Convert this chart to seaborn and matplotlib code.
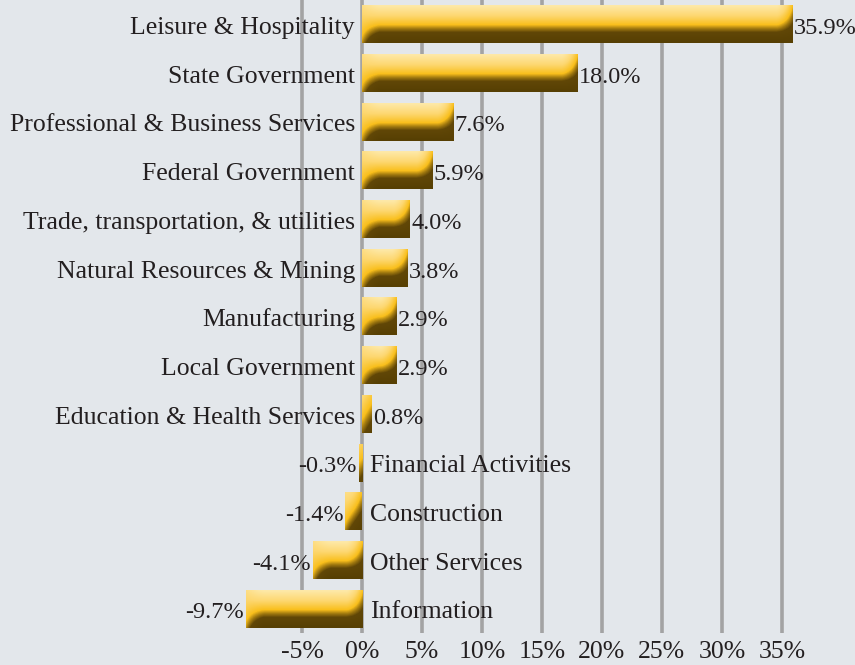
import numpy as np
import pandas as pd
import matplotlib
matplotlib.use("Agg")
import matplotlib.pyplot as plt
import seaborn as sns
from matplotlib.colors import LinearSegmentedColormap

categories = [
    "Leisure & Hospitality", "State Government", "Professional & Business Services",
    "Federal Government", "Trade, transportation, & utilities", "Natural Resources & Mining",
    "Manufacturing", "Local Government", "Education & Health Services",
    "Financial Activities", "Construction", "Other Services", "Information",
]
values = [35.9, 18.0, 7.6, 5.9, 4.0, 3.8, 2.9, 2.9, 0.8, -0.3, -1.4, -4.1, -9.7]
ticks = [-5, 0, 5, 10, 15, 20, 25, 30, 35]

bg = "#e3e7eb"
txt = "#231f20"
gold = LinearSegmentedColormap.from_list("gold", [
    (0.0, "#fee9a8"), (0.28, "#fdd770"), (0.52, "#f9bf1c"),
    (0.62, "#a67d10"), (0.72, "#614707"), (1.0, "#563f03")])

sns.set_theme(style="white")
plt.rcParams["font.family"] = ["Liberation Serif", "DejaVu Serif"]
fs = 18.5
fs_val = 17.5

df = pd.DataFrame({"category": categories, "value": values})

fig = plt.figure(figsize=(8.55, 6.65), dpi=100, facecolor=bg)
ax = fig.add_axes([0, 32 / 665, 1, 633 / 665])
ax.set_facecolor(bg)

sns.barplot(data=df, x="value", y="category", orient="h", width=0.78,
            color="#f9bf1c", saturation=1, ax=ax, zorder=3)

xlim = (-30.2, 41.1)
ylim = (12.5, -0.5)
ax.set_xlim(*xlim)
ax.set_ylim(*ylim)

# soft gradient + rounded-end shading for every bar
fig.canvas.draw()
for p in list(ax.patches):
    x0, y0 = p.get_x(), p.get_y()
    w, h = p.get_width(), p.get_height()
    xl, xr = min(x0, x0 + w), max(x0, x0 + w)
    yt, yb = min(y0, y0 + h), max(y0, y0 + h)
    (px0, py0), (px1, py1) = ax.transData.transform([(xl, yt), (xr, yb)])
    W = max(int(round(abs(px1 - px0))), 2)
    H = max(int(round(abs(py1 - py0))), 2)
    yy, xx = np.mgrid[0:H, 0:W].astype(float)
    t = yy / (H - 1)
    dl, dr = xx, (W - 1) - xx
    wl = np.clip(1 - dl / 18.0, 0, 1) ** 1.5
    wr = np.clip(1 - dr / 16.0, 0, 1) ** 1.5
    tot = wl + wr
    scale = np.where(tot > 1, 1 / np.maximum(tot, 1e-9), 1)
    wl, wr = wl * scale, wr * scale
    t_left = 0.18 + 0.42 * t
    t_right = 0.5 + 0.45 * t
    te = t * (1 - wl - wr) + t_left * wl + t_right * wr
    img = gold(np.clip(te, 0, 1))
    p.set_facecolor("none")
    p.set_edgecolor("none")
    ax.imshow(img, extent=(xl, xr, yb, yt), origin="upper", aspect="auto",
              interpolation="bilinear", zorder=4)

ax.set_xlim(*xlim)
ax.set_ylim(*ylim)

# vertical gridlines
ax.set_xticks(ticks)
ax.set_xticklabels([f"{t}%" for t in ticks], fontsize=fs, color=txt)
ax.tick_params(axis="x", length=0, pad=6)
ax.xaxis.grid(True, color="#a3a3a3", linewidth=2.6, zorder=0)
ax.set_axisbelow(True)
ax.set_yticks([])
ax.set_xlabel("")
ax.set_ylabel("")
for s in ax.spines.values():
    s.set_visible(False)

yo = 0.2  # baseline offset below bar centre
for i, (c, v) in enumerate(zip(categories, values)):
    if v >= 0:
        ax.text(-0.6, i + yo, c, ha="right", va="baseline", fontsize=fs, color=txt, zorder=5)
        ax.text(v + 0.08, i + yo, f"{v:.1f}%", ha="left", va="baseline", fontsize=fs_val, color=txt, zorder=5)
    else:
        ax.text(0.65, i + yo, c, ha="left", va="baseline", fontsize=fs, color=txt, zorder=5)
        ax.text(v - 0.15, i + yo, f"{v:.1f}%", ha="right", va="baseline", fontsize=fs_val, color=txt, zorder=5)

fig.savefig("out.png", dpi=100, facecolor=bg)
